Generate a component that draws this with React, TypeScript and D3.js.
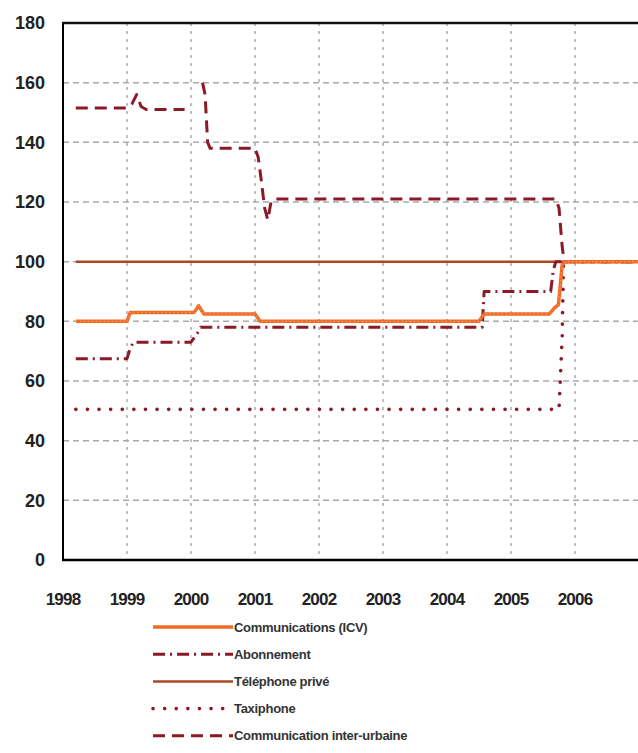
import React from "react";
import * as d3 from "d3";

type Pt = [number, number];

const yTicks = [0, 20, 40, 60, 80, 100, 120, 140, 160, 180];
const xTickYears = [1998, 1999, 2000, 2001, 2002, 2003, 2004, 2005, 2006];

const communicationsICV: Pt[] = [
  [1998.2, 80], [1999.0, 80], [1999.05, 83], [2000.05, 83], [2000.12, 85.2], [2000.2, 82.5],
  [2001.0, 82.5], [2001.08, 80], [2004.5, 80], [2004.58, 82.5], [2005.6, 82.5], [2005.68, 84.5],
  [2005.74, 85.5], [2005.77, 92], [2005.8, 99], [2005.85, 100], [2007, 100],
];
const abonnement: Pt[] = [
  [1998.2, 67.5], [1999.0, 67.5], [1999.05, 71], [1999.1, 73], [2000.0, 73], [2000.1, 76],
  [2000.15, 78], [2004.55, 78], [2004.58, 90], [2005.62, 90], [2005.66, 97], [2005.7, 100], [2007, 100],
];
const telephonePrive: Pt[] = [[1998.2, 100], [2007, 100]];
const taxiphone: Pt[] = [[1998.2, 50.5], [2005.75, 50.5], [2005.8, 75], [2005.82, 100], [2007, 100]];
// NaN marks a break in the drawn line
const interUrbaine: Pt[] = [
  [1998.2, 151.5], [1999.0, 151.5], [1999.08, 153], [1999.15, 156], [1999.22, 152], [1999.3, 151],
  [1999.9, 151], [2000.0, NaN], [2000.18, 160], [2000.22, 156], [2000.26, 140], [2000.3, 138], [2001.0, 138],
  [2001.05, 135], [2001.1, 127], [2001.15, 118], [2001.2, 114], [2001.25, 120], [2001.3, 121],
  [2005.7, 121], [2005.75, 118], [2005.8, 105], [2005.83, 100], [2007, 100],
];

const RED = "#8B1A26";
const ORANGE = "#F26B25";
const BROWN = "#A84A26";

const series = [
  { name: "Téléphone privé", data: telephonePrive, color: BROWN, width: 2.5, dash: "", cap: "butt" },
  { name: "Taxiphone", data: taxiphone, color: RED, width: 3.6, dash: "0.1 11.5", cap: "round" },
  { name: "Abonnement", data: abonnement, color: RED, width: 3, dash: "12 5 2 5", cap: "butt" },
  { name: "Communication inter-urbaine", data: interUrbaine, color: RED, width: 3, dash: "12 7", cap: "butt" },
  { name: "Communications (ICV)", data: communicationsICV, color: ORANGE, width: 3.5, dash: "", cap: "butt" },
];

const legendOrder = [
  "Communications (ICV)",
  "Abonnement",
  "Téléphone privé",
  "Taxiphone",
  "Communication inter-urbaine",
];

export default function App() {
  const W = 638, H = 753;
  const left = 63, right = 639, top = 23, bottom = 560;
  const x = d3.scaleLinear().domain([1998, 2007]).range([left, right]);
  const y = d3.scaleLinear().domain([0, 180]).range([bottom, top]);
  const line = d3.line<Pt>().defined((d) => !isNaN(d[1])).x((d) => x(d[0])).y((d) => y(d[1]));

  const font = "'Liberation Sans', Arial, sans-serif";

  return (
    <svg width={W} height={H} style={{ position: "absolute", left: 0, top: 0, background: "#fff" }} fontFamily={font}>
      {yTicks.filter((t) => t > 0 && t < 180).map((t) => (
        <line key={"h" + t} x1={left} x2={right} y1={y(t)} y2={y(t)} stroke="#aaa" strokeWidth={1.5} strokeDasharray="6 4" />
      ))}
      {d3.range(1999, 2008).map((yr) => (
        <line key={"v" + yr} x1={x(yr)} x2={x(yr)} y1={top} y2={bottom} stroke="#aaa" strokeWidth={1.5} strokeDasharray="3 5" />
      ))}
      {series.map((s) => (
        <path key={s.name} d={line(s.data) || ""} fill="none" stroke={s.color} strokeWidth={s.width}
          strokeDasharray={s.dash || undefined} strokeLinecap={s.cap as any} strokeLinejoin="round" />
      ))}
      <path d={line(communicationsICV) || ""} fill="none" stroke="#FBB58F" strokeWidth={1} strokeDasharray="1 3" />
      <line x1={left} x2={left} y1={top - 1} y2={bottom + 1} stroke="#000" strokeWidth={2} />
      <line x1={left - 1} x2={right} y1={bottom} y2={bottom} stroke="#000" strokeWidth={2.5} />
      <line x1={left - 1} x2={right} y1={top} y2={top} stroke="#111" strokeWidth={2.5} />
      {yTicks.map((t) => (
        <text key={"yl" + t} x={45} y={y(t)} dy="0.35em" textAnchor="end" fontSize={18} fontWeight="bold" fill="#222">{t}</text>
      ))}
      {xTickYears.map((yr) => (
        <text key={"xl" + yr} x={x(yr)} y={599} dy="0.35em" textAnchor="middle" fontSize={17} fontWeight="bold" fill="#222" letterSpacing={-0.8}>{yr}</text>
      ))}
      {legendOrder.map((name, i) => {
        const s = series.find((q) => q.name === name)!;
        const ly = 627 + i * 27.2;
        return (
          <g key={"lg" + name}>
            <line x1={153} x2={233} y1={ly} y2={ly} stroke={s.color} strokeWidth={s.width}
              strokeDasharray={s.dash || undefined} strokeLinecap={s.cap as any} />
            <text x={234} y={ly} dy="0.35em" fontSize={13} fontWeight="bold" fill="#333" letterSpacing={-0.3}>{name}</text>
          </g>
        );
      })}
    </svg>
  );
}
